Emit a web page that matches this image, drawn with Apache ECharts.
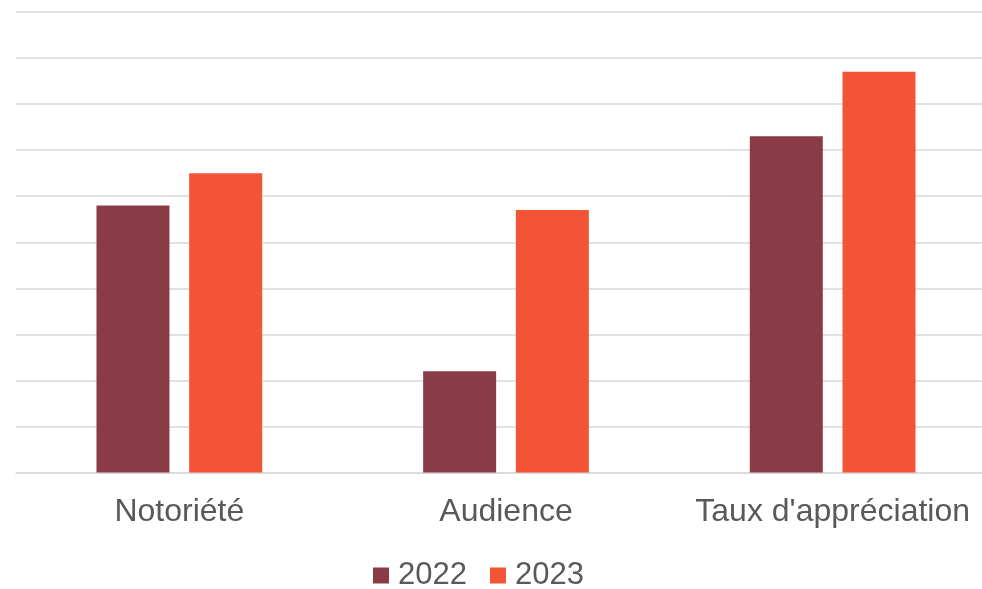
<!DOCTYPE html>
<html>
<head>
<meta charset="utf-8">
<script src="https://cdn.jsdelivr.net/npm/echarts@6/dist/echarts.min.js"></script>
<style>
  html, body { margin: 0; padding: 0; background: #fff; }
  #chart { width: 982px; height: 589px; }
</style>
</head>
<body>
<div id="chart"></div>
<script>
// catégories et valeurs
const categories = ["Notoriété", "Audience", "Taux d'appréciation"];
const values2022 = [58, 22, 73];
const values2023 = [65, 57, 87];
const seriesNames = ["2022", "2023"];

const chart = echarts.init(document.getElementById("chart"));
const option = {
  animation: false,
  color: ["#893C46", "#F25435"],
  textStyle: { fontFamily: "Liberation Sans, Arial, sans-serif" },
  grid: {
    left: 16,
    top: 12,
    width: 980,
    height: 460.5,
    containLabel: false,
    outerBoundsMode: "none",
  },
  legend: {
    data: seriesNames,
    left: 373,
    top: 560,
    icon: "rect",
    itemWidth: 16,
    itemHeight: 16,
    itemGap: 23,
    padding: 0,
    textStyle: { fontSize: 31, color: "#595959", padding: [0, 0, 0, 4] },
  },
  xAxis: {
    type: "category",
    data: categories,
    axisTick: { show: false },
    axisLine: { lineStyle: { color: "#d9d9d9", width: 1.5 } },
    axisLabel: {
      interval: 0,
      hideOverlap: false,
      fontSize: 32,
      color: "#595959",
      margin: 24,
    },
  },
  yAxis: {
    type: "value",
    min: 0,
    max: 100,
    interval: 10,
    axisLabel: { show: false },
    axisLine: { show: false },
    axisTick: { show: false },
    splitLine: { lineStyle: { color: "#d9d9d9", width: 1.5 } },
  },
  series: [
    {
      name: seriesNames[0],
      type: "bar",
      data: values2022,
      barWidth: 73,
      barGap: "27%",
    },
    {
      name: seriesNames[1],
      type: "bar",
      data: values2023,
      barWidth: 73,
      barGap: "27%",
    },
  ],
};
chart.setOption(option);
</script>
</body>
</html>
